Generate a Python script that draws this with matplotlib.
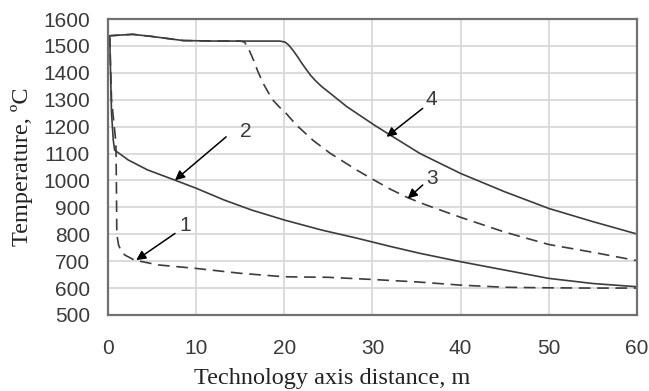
import matplotlib

matplotlib.use("Agg")
import matplotlib.pyplot as plt

# Temperature along the technology axis for four regimes
x_1 = [0, 0.2, 0.4, 0.9, 0.95, 1.0, 1.2, 1.5, 1.9, 3.0, 5.7, 10, 15, 20, 25, 30, 35, 40, 45, 50, 55, 60]
t_1 = [1535, 1530, 1300, 1140, 1000, 800, 760, 738, 723, 704, 686, 673, 655, 642, 640, 632, 623, 611, 603,
       601, 600, 600]

x_2 = [0, 0.2, 0.4, 0.6, 0.75, 2.3, 4.5, 7.6, 10, 13.2, 16.3, 20, 24.2, 28.3, 32, 35.4, 40, 45, 50, 55, 60]
t_2 = [1535, 1530, 1250, 1150, 1113, 1076, 1039, 1001, 971, 927, 890, 853, 816, 785, 755, 729, 698, 667, 636,
       617, 605]

x_3 = [0, 0.3, 2.8, 5, 8.5, 12, 15, 15.5, 16.0, 16.5, 17.0, 17.6, 18.2, 18.7, 19.4, 20.1, 21.4, 23.3, 25.2,
       28.2, 30, 32, 34, 36, 40, 45, 50, 55, 60]
t_3 = [1535, 1538, 1543, 1535, 1520, 1518, 1518, 1514, 1485, 1448, 1405, 1361, 1326, 1299, 1274, 1253, 1205,
       1148, 1101, 1039, 1005, 968, 936, 910, 863, 808, 762, 733, 702]

x_4 = [0, 0.3, 2.8, 5, 8.5, 12, 15, 19.5, 20.1, 20.5, 21.0, 21.5, 22.0, 22.5, 23.0, 23.5, 24.2, 25.2, 27.1,
       30.2, 32, 35.4, 40, 45, 50, 55, 60]
t_4 = [1535, 1538, 1543, 1535, 1520, 1518, 1518, 1518, 1514, 1503, 1483, 1460, 1435, 1412, 1390, 1372, 1350,
       1324, 1274, 1206, 1169, 1100, 1026, 958, 896, 847, 801]

# curve number: label position, arrow start, arrow tip
labels = ["1", "2", "3", "4"]
label_xy = [(8.7, 834), (15.6, 1181), (36.8, 1008), (36.7, 1300)]
arrow_from = [(7.6, 803), (13.4, 1162), (35.7, 983), (35.7, 1268)]
arrow_tip = [(3.2, 704), (7.6, 1001), (34.0, 933), (31.6, 1162)]

x_ticks = [0, 10, 20, 30, 40, 50, 60]
y_ticks = list(range(500, 1601, 100))

line_color = "#3c3c3c"
text_color = "#3a3a3a"

fig = plt.figure(figsize=(6.49, 3.91), dpi=100)
ax = fig.add_axes([0.1664, 0.1944, 0.815, 0.757])

ax.plot(x_1, t_1, color=line_color, lw=1.2, linestyle=(0, (7, 4)))
ax.plot(x_2, t_2, color=line_color, lw=1.2)
ax.plot(x_3, t_3, color=line_color, lw=1.2, linestyle=(0, (7, 4)))
ax.plot(x_4, t_4, color=line_color, lw=1.2)

for lab, pos, start, tip in zip(labels, label_xy, arrow_from, arrow_tip):
    ax.text(pos[0], pos[1], lab, fontsize=15, color=text_color,
            family="Liberation Sans", ha="center", va="center")
    ax.annotate("", xy=tip, xytext=start,
                arrowprops=dict(arrowstyle="-|>", color="black", lw=1.1,
                                mutation_scale=14, shrinkA=0, shrinkB=0))

ax.set_xlim(0, 60)
ax.set_ylim(500, 1600)
ax.set_xticks(x_ticks)
ax.set_yticks(y_ticks)
ax.grid(True, color="#d9d9d9", lw=1.3)
ax.set_axisbelow(True)
ax.tick_params(length=0, labelsize=15, colors=text_color)
ax.tick_params(axis="x", pad=17)
ax.tick_params(axis="y", pad=13)
for lbl in ax.get_xticklabels() + ax.get_yticklabels():
    lbl.set_family("Liberation Sans")
for side in ax.spines.values():
    side.set_color("#707070")
    side.set_linewidth(1.6)

ax.set_xlabel("Technology axis distance, m", family="Liberation Serif", fontsize=17.5, color="#222222")
ax.set_ylabel("Temperature, ºC", family="Liberation Serif", fontsize=17.5, color="#222222")
ax.xaxis.set_label_coords(0.423, -0.18)
ax.yaxis.set_label_coords(-0.141, 0.5)

fig.savefig("out.png")
plt.close(fig)
